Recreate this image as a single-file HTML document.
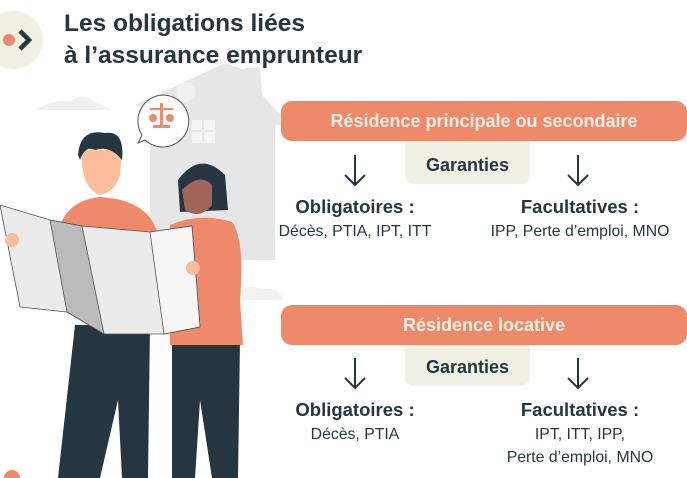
<!DOCTYPE html>
<html><head><meta charset="utf-8"><style>
body{margin:0;width:687px;height:478px;background:#fff;overflow:hidden;position:relative;font-family:"Liberation Sans",sans-serif;color:#263640}
.t{position:absolute;white-space:nowrap}
.bar{position:absolute;left:281px;width:406px;height:40px;background:#ee8a69;border-radius:11px;color:#fbeee6;font-weight:bold;font-size:18px;text-align:center;line-height:40px}
.gar{position:absolute;left:405px;width:125px;height:43px;background:#f1f0e4;border-radius:0 0 9px 9px;font-weight:bold;font-size:18px;text-align:center;line-height:38px}
.c{position:absolute;text-align:center;font-size:15.8px;line-height:23px;width:220px}
.c b{font-size:18.5px}
</style></head><body>
<svg width="687" height="478" style="position:absolute;left:0;top:0">
<circle cx="14" cy="40" r="29" fill="#f1f0e4"/>
<circle cx="9" cy="40" r="6" fill="#ee8a69"/>
<path d="M20 31 L29 40 L20 49" stroke="#263640" stroke-width="4.5" fill="none"/>
<path d="M36 110 Q55 98 70 102 Q82 92 95 102 L112 110Z" fill="#f0f0f0"/>
<path d="M232 300 Q245 280 262 290 Q275 285 285 300Z" fill="#f2f2f2"/>
<polygon points="135,105 225,63 245,70 245,68 260,68 262,95 290,125 275,125 275,260 150,260 150,110" fill="#e6e6e6"/>
<circle cx="186" cy="92" r="10" fill="#f0f0f0"/>
<rect x="192" y="120" width="23" height="23" fill="#f5f5f5"/>
<line x1="192" y1="131" x2="215" y2="131" stroke="#e6e6e6" stroke-width="2"/><line x1="203" y1="120" x2="203" y2="143" stroke="#e6e6e6" stroke-width="2"/>
<path d="M163 95 a26 26 0 1 1 -18 45 l-7 3 l4 -8 a26 26 0 0 1 21 -40z" fill="#fff" stroke="#555" stroke-width="1"/>
<g fill="#ee8a69"><rect x="160" y="103" width="3" height="23"/><rect x="150" y="108" width="23" height="2"/><rect x="153" y="125" width="17" height="3"/><circle cx="153" cy="118" r="4"/><circle cx="170" cy="118" r="4"/></g>
<polygon points="75,325 150,325 148,478 122,478 118,400 100,478 58,478" fill="#263640"/>
<polygon points="172,340 240,340 238,478 212,478 200,400 195,478 172,478" fill="#263640"/>
<path d="M170 225 Q200 212 232 222 Q245 240 240 300 L243 345 L170 345Z" fill="#ee8a69"/>
<path d="M178 180 Q200 150 225 175 L228 210 L180 212Z" fill="#263640"/>
<path d="M182 190 Q200 172 212 185 L212 205 Q200 220 185 210Z" fill="#a0645a"/>
<path d="M60 225 Q70 200 100 197 Q150 200 158 235 L160 260 L62 260Z" fill="#ee8a69"/>
<path d="M82 165 Q85 190 100 195 Q115 192 120 175 L122 150 L82 150Z" fill="#fbbd9c"/>
<path d="M78 155 Q80 128 105 133 Q125 130 122 160 Q110 145 95 150 Q85 145 80 160Z" fill="#263640"/>
<polygon points="0,205 50,220 82,226 150,232 192,226 200,327 164,334 104,334 67,312 20,307" fill="#ebebeb" stroke="#555" stroke-width="0.8"/>
<polygon points="50,220 82,226 104,334 67,312" fill="#bbb" stroke="#555" stroke-width="0.8"/>
<polygon points="150,232 192,226 200,327 164,334" fill="#f6f6f6" stroke="#555" stroke-width="0.8"/>
<circle cx="12" cy="240" r="7" fill="#fbbd9c"/><circle cx="193" cy="268" r="7" fill="#fbbd9c"/>
<circle cx="12" cy="478" r="8" fill="#ee8a69"/>
<g stroke="#263640" stroke-width="2" fill="none">
<path d="M355 155 V185 M345 175 L355 185 L365 175"/>
<path d="M578 155 V185 M568 175 L578 185 L588 175"/>
<path d="M355 358 V388 M345 378 L355 388 L365 378"/>
<path d="M578 358 V388 M568 378 L578 388 L588 378"/>
</g>
</svg>
<div class="t" style="left:64px;top:8px;font-size:24.5px;font-weight:bold;line-height:32px">Les obligations liées<br>à l’assurance emprunteur</div>
<div class="gar" style="top:141px;padding-top:5px;height:38px">Garanties</div>
<div class="bar" style="top:101px">Résidence principale ou secondaire</div>
<div class="c" style="left:245px;top:195px"><b>Obligatoires :</b><br>Décès, PTIA, IPT, ITT</div>
<div class="c" style="left:470px;top:195px"><b>Facultatives :</b><br>IPP, Perte d’emploi, MNO</div>
<div class="gar" style="top:345px;height:38px;padding-top:3px">Garanties</div>
<div class="bar" style="top:305px">Résidence locative</div>
<div class="c" style="left:245px;top:398px"><b>Obligatoires :</b><br>Décès, PTIA</div>
<div class="c" style="left:470px;top:398px"><b>Facultatives :</b><br>IPT, ITT, IPP,<br>Perte d’emploi, MNO</div>
</body></html>
